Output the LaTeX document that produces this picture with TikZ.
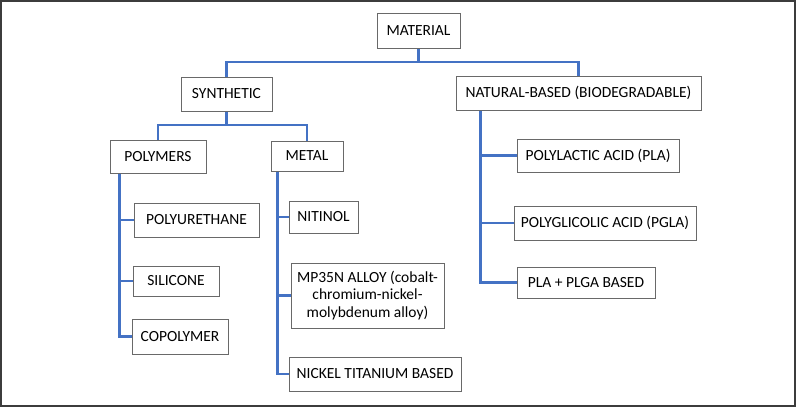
\documentclass[tikz,border=0pt]{standalone}
\usepackage{fontspec}
\setmainfont{Carlito}
\usetikzlibrary{positioning}
\definecolor{treeblue}{RGB}{68, 114, 196}
\definecolor{boxgray}{RGB}{105, 105, 105}
\definecolor{framegray}{RGB}{60, 60, 60}

\begin{document}
\begin{tikzpicture}[x=1pt, y=-1pt,
        box/.style={rectangle, draw=boxgray, line width=1pt, inner sep=0pt, align=center, font=\fontsize{15.5}{17.5}\selectfont},
        link/.style={treeblue, line width=2.2pt}
      ]
        \draw[framegray, line width=2pt] (1,1) rectangle (795,406);
        \useasboundingbox (0,0) rectangle (796,407);

        % top levels
        \node[box, minimum width=83, minimum height=35] (mat) at (418.5, 30.5) {MATERIAL};
        \node[box, minimum width=91, minimum height=34] (syn) at (226.5, 94) {SYNTHETIC};
        \node[box, minimum width=245, minimum height=34] (nat) at (578.5, 93) {NATURAL-BASED (BIODEGRADABLE)};
        \node[box, minimum width=96, minimum height=33] (poly) at (158, 156.5) {POLYMERS};
        \node[box, minimum width=72, minimum height=30] (metal) at (307, 156) {METAL};

        % polymers
        \node[box, minimum width=125, minimum height=34] (pu) at (196.5, 220) {POLYURETHANE};
        \node[box, minimum width=86, minimum height=30] (sil) at (176, 281) {SILICONE};
        \node[box, minimum width=96, minimum height=35] (copo) at (180, 336.5) {COPOLYMER};

        % metal
        \node[box, minimum width=69, minimum height=32] (niti) at (323.5, 217) {NITINOL};
        \node[box, minimum width=153, minimum height=65] (mp) at (367.5, 295.5) {MP35N ALLOY (cobalt-\\chromium-nickel-\\molybdenum alloy)};
        \node[box, minimum width=172, minimum height=34] (niti2) at (375, 374) {NICKEL TITANIUM BASED};

        % natural
        \node[box, minimum width=162, minimum height=33] (pla) at (598, 155.5) {POLYLACTIC ACID (PLA)};
        \node[box, minimum width=182, minimum height=34] (pgla) at (605, 223) {POLYGLICOLIC ACID (PGLA)};
        \node[box, minimum width=138, minimum height=31] (plga) at (586, 282.5) {PLA + PLGA BASED};

        \coordinate (matj) at (418.5, 62);
        \coordinate (synj) at (226.5, 125);

        \draw[link] (mat) -- (matj);
        \draw[link] (syn.north) |- (matj) -| (nat.north);
        \draw[link] (syn) -- (synj);
        \draw[link] (poly.north) |- (synj) -| (metal.north);

        \draw[link] ([xshift=10]poly.south west) |- (pu.west);
        \draw[link] ([xshift=10]poly.south west) |- (sil.west);
        \draw[link] ([xshift=10]poly.south west) |- (copo.west);

        \draw[link] ([xshift=7]metal.south west) |- (niti.west);
        \draw[link] ([xshift=7]metal.south west) |- (mp.west);
        \draw[link] ([xshift=7]metal.south west) |- (niti2.west);

        \draw[link] ([xshift=25]nat.south west) |- (pla.west);
        \draw[link] ([xshift=25]nat.south west) |- (pgla.west);
        \draw[link] ([xshift=25]nat.south west) |- (plga.west);
      \end{tikzpicture}
\end{document}
